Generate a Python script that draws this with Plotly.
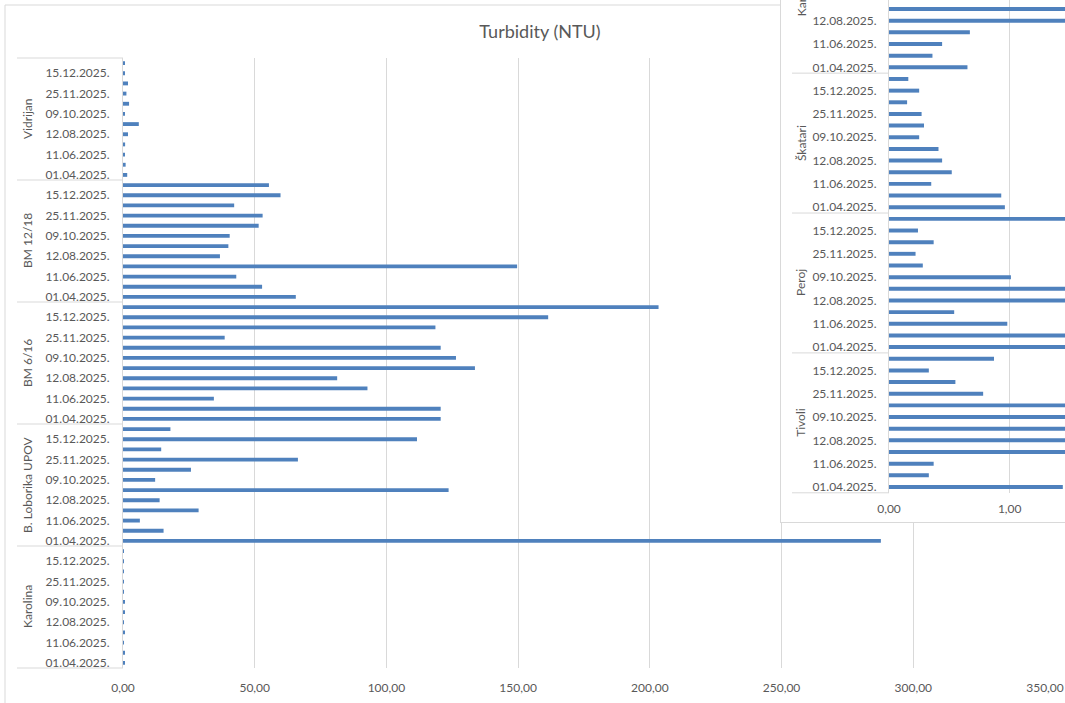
import plotly.graph_objects as go

W, H = 1065, 703
BLUE = "#4F81BD"
GRID = "#D9D9D9"
TXT = "#595959"
FONT = "Lato"

# Sampling dates, oldest first (first date sits at the bottom of each group)
dates = ["01.04.2025.", "07.05.2025.", "11.06.2025.", "08.07.2025.",
         "12.08.2025.", "09.09.2025.", "09.10.2025.", "04.11.2025.",
         "25.11.2025.", "02.12.2025.", "15.12.2025.", "22.12.2025."]

# ---- main chart: turbidity (NTU) per site, bottom group first ----
main_sites = ["Karolina", "B. Loborika UPOV", "BM 6/16", "BM 12/18", "Vidrijan"]
karolina = [0.55, 0.50, 0.30, 0.45, 0.30, 0.50, 0.55, 0.30, 0.25, 0.20, 0.25, 0.20]
loborika = [287.7, 15.4, 6.4, 28.7, 13.9, 123.6, 12.2, 25.8, 66.4, 14.5, 111.6, 18.0]
bm_6_16 = [120.6, 120.6, 34.5, 92.8, 81.3, 133.6, 126.4, 120.6, 38.6, 118.6, 161.4, 203.3]
bm_12_18 = [65.6, 52.8, 43.0, 149.6, 36.8, 40.0, 40.5, 51.5, 53.0, 42.2, 59.8, 55.4]
vidrijan = [1.6, 1.0, 0.5, 0.8, 1.9, 6.0, 0.5, 2.3, 1.3, 1.9, 0.4, 0.5]
main_values = [karolina, loborika, bm_6_16, bm_12_18, vidrijan]
main_xticks = [0, 50, 100, 150, 200, 250, 300, 350]

# ---- small-range chart, bottom group first ----
inset_sites = ["Tivoli", "Peroj", "Škatari", "Karolina"]
tivoli = [1.44, 0.33, 0.37, 2.10, 1.85, 2.60, 1.95, 2.30, 0.78, 0.55, 0.33, 0.87]
peroj = [2.40, 1.90, 0.98, 0.54, 1.75, 2.20, 1.01, 0.28, 0.22, 0.37, 0.24, 1.80]
skatari = [0.96, 0.93, 0.35, 0.52, 0.44, 0.41, 0.25, 0.29, 0.27, 0.15, 0.25, 0.16]
karolina_small = [0.65, 0.36, 0.44, 0.67, 1.90, 1.70, 0.68, 0.50, 0.40, 0.30, 0.35, 0.30]
inset_values = [tivoli, peroj, skatari, karolina_small]
inset_xticks = [0, 1]

N = len(dates)
label_dates = dates[0::2]


def px_x(p):
    return p / W


def px_y(p):
    return 1 - p / H


def rows(k):
    return [k * N + i for i in range(N)]


fig = go.Figure()

for k, vals in enumerate(main_values):
    fig.add_trace(go.Bar(x=vals, y=rows(k), orientation="h", width=0.38,
                         marker=dict(color=BLUE, line=dict(width=0)),
                         xaxis="x", yaxis="y", showlegend=False, hoverinfo="skip"))

# white panel that carries the second chart's frame
fig.add_trace(go.Scatter(x=[], y=[], xaxis="x2", yaxis="y2",
                         showlegend=False, hoverinfo="skip"))

for k, vals in enumerate(inset_values):
    fig.add_trace(go.Bar(x=vals, y=rows(k), orientation="h", width=0.34,
                         marker=dict(color=BLUE, line=dict(width=0)),
                         xaxis="x3", yaxis="y3", showlegend=False, hoverinfo="skip"))

main_tickvals = [k * N + i for k in range(len(main_sites)) for i in range(0, N, 2)]
main_ticktext = [label_dates[j] for k in range(len(main_sites)) for j in range(len(label_dates))]
inset_tickvals = [k * N + i for k in range(len(inset_sites)) for i in range(0, N, 2)]
inset_ticktext = [label_dates[j] for k in range(len(inset_sites)) for j in range(len(label_dates))]

# inset geometry
row_px = 11.657
inset_bottom = 492.8
inset_top_row = -0.5 + inset_bottom / row_px
inset_xmax = (W - 889) / 120.7

axis_common = dict(automargin=False, fixedrange=True, zeroline=False)

fig.update_layout(
    template="none",
    width=W, height=H,
    autosize=False,
    margin=dict(l=0, r=0, t=0, b=0, pad=0),
    paper_bgcolor="white", plot_bgcolor="white",
    separators=",.",
    barmode="overlay",
    showlegend=False,
    font=dict(family=FONT, size=12, color=TXT),
    title=dict(text="Turbidity (NTU)", x=540 / W, y=px_y(32),
               xref="paper", yref="paper", automargin=False,
               xanchor="center", yanchor="middle",
               font=dict(family=FONT, size=18, color=TXT)),
    xaxis=dict(domain=[px_x(123), px_x(1045)], range=[0, 350], tickvals=main_xticks,
               tickformat=".2f", showgrid=True, gridcolor=GRID, gridwidth=1,
               showline=False, ticks="", ticklabelstandoff=11,
               anchor="y", **axis_common),
    yaxis=dict(domain=[px_y(668), px_y(58)], range=[-0.5, len(main_sites) * N - 0.5],
               tickvals=main_tickvals, ticktext=main_ticktext,
               showgrid=False, showline=True, linecolor=GRID,
               linewidth=1, ticks="", ticklabelstandoff=10, anchor="x", **axis_common),
    xaxis2=dict(domain=[px_x(781), 1], range=[0, 1], showgrid=False,
                showticklabels=False, showline=True, linecolor=GRID, linewidth=1,
                ticks="", anchor="y2", **axis_common),
    yaxis2=dict(domain=[px_y(522), 1], range=[0, 1], showgrid=False,
                showticklabels=False, showline=True, linecolor=GRID, linewidth=1,
                ticks="", anchor="x2", **axis_common),
    xaxis3=dict(domain=[px_x(889), 1], range=[0, inset_xmax], tickvals=inset_xticks,
                tickformat=".2f", showgrid=True, gridcolor=GRID, gridwidth=1,
                showline=False, ticks="", ticklabelstandoff=7,
                anchor="y3", **axis_common),
    yaxis3=dict(domain=[px_y(inset_bottom), 1], range=[-0.5, inset_top_row],
                tickvals=inset_tickvals, ticktext=inset_ticktext,
                showgrid=False, showline=True, linecolor=GRID,
                linewidth=1, ticks="", ticklabelstandoff=9, anchor="x3", **axis_common),
)

shapes = []
# outer frame of the main chart
shapes.append(dict(type="line", xref="paper", yref="paper", x0=px_x(5), x1=px_x(5),
                   y0=0, y1=px_y(5), line=dict(color=GRID, width=1), layer="below"))
shapes.append(dict(type="line", xref="paper", yref="paper", x0=px_x(5), x1=1,
                   y0=px_y(5), y1=px_y(5), line=dict(color=GRID, width=1), layer="below"))

# group dividers on the category axis (main)
n_main = len(main_sites) * N
for k in range(len(main_sites) + 1):
    f = (k * N) / n_main
    shapes.append(dict(type="line", xref="paper", yref="y domain",
                       x0=px_x(17), x1=px_x(123), y0=f, y1=f,
                       line=dict(color=GRID, width=1), layer="below"))

# group dividers (inset)
span = inset_top_row + 0.5
for k in range(len(inset_sites)):
    f = (k * N) / span
    shapes.append(dict(type="line", xref="paper", yref="y3 domain",
                       x0=px_x(792), x1=px_x(889), y0=f, y1=f,
                       line=dict(color=GRID, width=1), layer="above"))
fig.update_layout(shapes=shapes)

annotations = []
for k, name in enumerate(main_sites):
    annotations.append(dict(text=name, xref="paper", yref="y", x=px_x(27),
                            y=k * N + (N - 1) / 2, textangle=-90, showarrow=False,
                            xanchor="center", yanchor="middle",
                            font=dict(family=FONT, size=12, color=TXT)))
for k, name in enumerate(inset_sites):
    annotations.append(dict(text=name, xref="paper", yref="y3", x=px_x(801),
                            y=k * N + (N - 1) / 2, textangle=-90, showarrow=False,
                            xanchor="center", yanchor="middle",
                            yshift=8 if k == len(inset_sites) - 1 else 0,
                            font=dict(family=FONT, size=12, color=TXT)))
fig.update_layout(annotations=annotations)

fig.write_html("out.html")
